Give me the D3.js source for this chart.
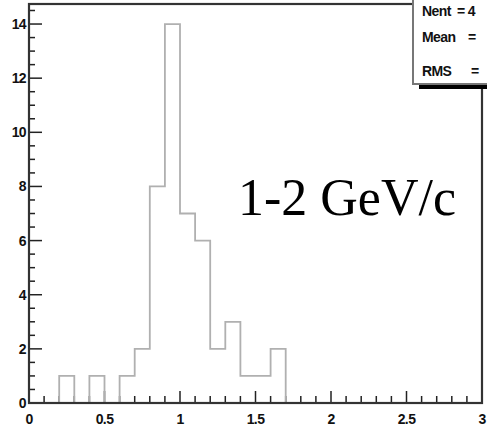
<!DOCTYPE html>
<html>
<head>
<meta charset="utf-8">
<script src="https://cdn.jsdelivr.net/npm/d3@7"></script>
<style>
body{margin:0;background:#fff;}
svg{display:block;}
.lbl{font-family:"Liberation Sans Narrow","Liberation Sans",Arial,sans-serif;font-weight:bold;font-size:14px;letter-spacing:-0.6px;fill:#111;}
</style>
</head>
<body>
<svg id="chart"></svg>
<script>
// histogram: bin low edges (width 0.1) and entries
var binLow=[0.2,0.3,0.4,0.5,0.6,0.7,0.8,0.9,1.0,1.1,1.2,1.3,1.4,1.5,1.6];
var counts=[1,0,1,0,1,2,8,14,7,6,2,3,1,1,2];
var binWidth=0.1;
var xTicks=[0,0.5,1,1.5,2,2.5,3];
var xTickLabels=["0","0.5","1","1.5","2","2.5","3"];
var yTicks=[0,2,4,6,8,10,12,14];
// stats box is clipped at the page edge in the original
var statNames=["Nent","Mean","RMS"];
var statValues=["= 4","=","="];
var label="1-2 GeV/c";

var width=487, height=428;
var svg=d3.select("#chart").attr("width",width).attr("height",height);

var x=d3.scaleLinear().domain([0,3]).range([29,482]);
var y=d3.scaleLinear().domain([0,14.74]).range([403,4]);

// minor ticks
var xMinor=d3.range(0,3.0001,0.1);
var yMinor=d3.range(0,14.7,0.5);

svg.selectAll("line.xm").data(xMinor).enter().append("line")
.attr("x1",function(d){return x(d);})
.attr("x2",function(d){return x(d);})
.attr("y1",y(0))
.attr("y2",function(d,i){return i%5==0 ? y(0)-12 : y(0)-7;})
.attr("stroke","#222").attr("stroke-width",1.5);

svg.selectAll("line.ym").data(yMinor).enter().append("line")
.attr("y1",function(d){return y(d);})
.attr("y2",function(d){return y(d);})
.attr("x1",x(0))
.attr("x2",function(d,i){return i%4==0 ? x(0)+13 : x(0)+6;})
.attr("stroke","#222").attr("stroke-width",1.5);

// histogram outline
var pts=[[binLow[0],0]];
binLow.forEach(function(b,i){
  pts.push([b,counts[i]]);
  pts.push([b+binWidth,counts[i]]);
});
pts.push([binLow[binLow.length-1]+binWidth,0]);
svg.append("path")
.attr("d",d3.line().x(function(d){return x(d[0]);}).y(function(d){return y(d[1]);})(pts))
.attr("fill","none").attr("stroke","#b0b0b0").attr("stroke-width",1.8);

// frame
svg.append("rect")
.attr("x",x(0)).attr("y",y(14.74))
.attr("width",x(3)-x(0)).attr("height",y(0)-y(14.74))
.attr("fill","none").attr("stroke","#333").attr("stroke-width",2.2);

// axis labels
svg.selectAll("text.xl").data(xTicks).enter().append("text")
.attr("class","lbl")
.attr("x",function(d){return x(d);})
.attr("y",424)
.attr("text-anchor","middle")
.text(function(d,i){return xTickLabels[i];});

svg.selectAll("text.yl").data(yTicks).enter().append("text")
.attr("class","lbl")
.attr("x",26)
.attr("y",function(d){return y(d)+5;})
.attr("text-anchor","end")
.text(function(d){return d;});

// stats box with shadow
svg.append("rect").attr("x",419).attr("y",-10).attr("width",90).attr("height",99).attr("fill","#000");
svg.append("rect").attr("x",413).attr("y",-10).attr("width",90).attr("height",94)
.attr("fill","#fff").attr("stroke","#777").attr("stroke-width",2);
var statY=[16,42,76];
var statX=[457,468,471];
svg.selectAll("text.sn").data(statNames).enter().append("text")
.attr("class","lbl")
.attr("x",422)
.attr("y",function(d,i){return statY[i];})
.text(function(d){return d;});
svg.selectAll("text.sv").data(statValues).enter().append("text")
.attr("class","lbl")
.attr("x",function(d,i){return statX[i];})
.attr("y",function(d,i){return statY[i];})
.text(function(d){return d;});

// label
svg.append("text")
.attr("x",238).attr("y",215)
.attr("font-family","'Liberation Serif','Times New Roman',serif")
.attr("font-size",52)
.attr("fill","#000")
.text(label);
</script>
</body>
</html>
